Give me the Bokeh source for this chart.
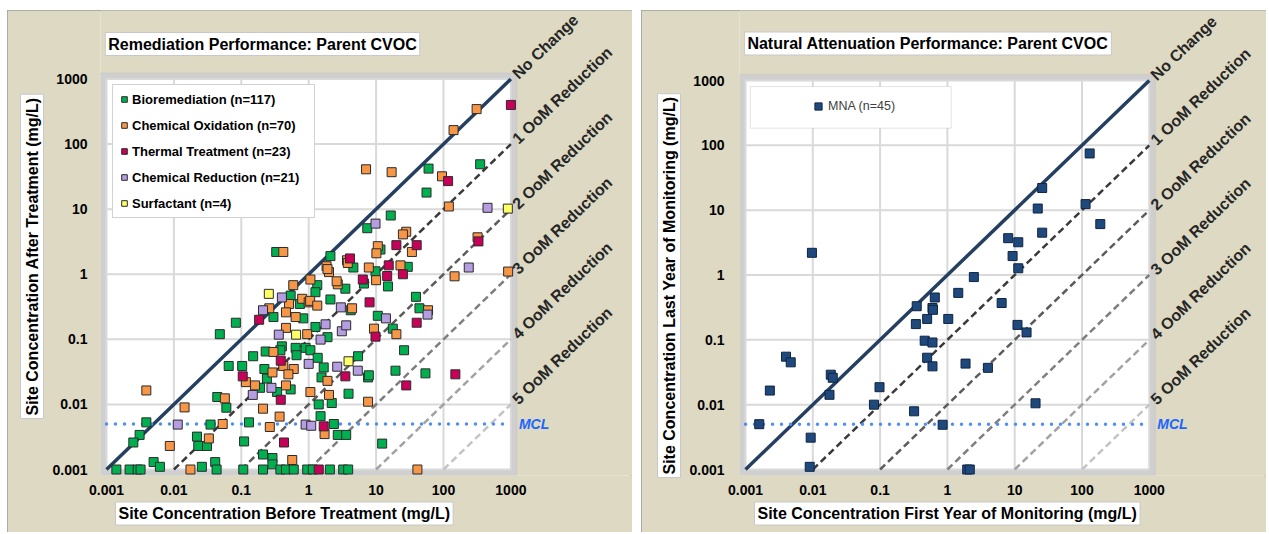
import math
from bokeh.plotting import figure
from bokeh.models import (Range1d, FixedTicker, CustomJSTickFormatter, Label, Title,
                          BoxAnnotation, Legend, LegendItem)
from bokeh.layouts import row
from bokeh.embed import file_html
from bokeh.resources import INLINE

# ---------------- data ----------------
axis_ticks = [0.001, 0.01, 0.1, 1, 10, 100, 1000]
axis_min, axis_max = 0.001, 1000
oom_steps = [0, 1, 2, 3, 4, 5]
oom_labels = ["No Change", "1 OoM Reduction", "2 OoM Reduction",
              "3 OoM Reduction", "4 OoM Reduction", "5 OoM Reduction"]
mcl_value = 0.005

bioremediation = [
    (0.083, 0.18), (0.048, 0.12), (0.065, 0.039), (0.103, 0.039), (0.15, 0.055),
    (0.23, 0.065), (0.22, 0.035), (0.24, 0.025), (0.30, 0.22), (0.54, 0.47),
    (0.74, 0.35), (0.83, 0.21), (0.40, 0.078), (0.64, 0.074), (0.90, 0.074),
    (0.38, 0.068), (0.66, 0.057), (0.19, 0.018), (0.34, 0.0155), (0.54, 0.017),
    (0.044, 0.013), (0.06, 0.0089), (0.0039, 0.0053), (0.035, 0.0049), (0.13, 0.0053),
    (0.0031, 0.0034), (0.0025, 0.0026), (0.022, 0.0032), (0.023, 0.0023), (0.031, 0.0023),
    (0.11, 0.0027), (0.21, 0.0017), (0.29, 0.0015), (0.29, 0.0012), (0.041, 0.0013),
    (0.043, 0.001), (0.026, 0.0011), (0.005, 0.0013), (0.0062, 0.0011), (0.0014, 0.001),
    (0.0022, 0.001), (0.0029, 0.001), (0.0032, 0.001), (0.107, 0.001), (0.21, 0.001),
    (0.38, 0.001), (0.46, 0.001), (0.60, 0.001), (0.95, 0.001), (6.6, 0.72),
    (15, 0.65), (3.5, 0.6), (1.34, 0.68), (1.26, 0.53), (2.1, 0.41),
    (4.2, 0.28), (10.6, 0.23), (39, 0.45), (44, 0.30), (1.26, 0.155),
    (1.9, 0.108), (17.7, 0.146), (26, 0.068), (1.06, 0.068), (1.36, 0.052),
    (1.67, 0.037), (5.4, 0.055), (7.6, 0.026), (7.8, 0.028), (19.4, 0.033),
    (54, 0.030), (1.55, 0.026), (2.2, 0.0105), (1.41, 0.010), (3.9, 0.0146),
    (1.5, 0.0066), (2.36, 0.005), (2.7, 0.0034), (3.6, 0.0034), (12.3, 0.0025),
    (1.15, 0.001), (2.06, 0.001), (3.25, 0.001), (3.85, 0.001), (60, 42),
    (350, 49), (56, 18), (16.5, 8.0), (7.4, 5.1), (11.6, 2.4),
    (2.1, 1.9), (4.6, 1.27), (29.5, 1.3), (9.8, 1.11), (0.33, 2.2),
]
chemical_oxidation = [
    (0.59, 0.68), (0.26, 0.30), (0.51, 0.35), (0.80, 0.42), (0.46, 0.26),
    (0.64, 0.22), (0.46, 0.15), (0.95, 0.12), (0.30, 0.064), (0.42, 0.039),
    (0.60, 0.035), (0.29, 0.031), (0.50, 0.029), (0.117, 0.022), (0.16, 0.0196),
    (0.46, 0.0196), (0.057, 0.0124), (0.21, 0.0086), (0.37, 0.0065), (0.0039, 0.0164),
    (0.0144, 0.009), (0.053, 0.005), (0.265, 0.0045), (0.033, 0.003), (0.0087, 0.0023),
    (0.57, 0.0014), (0.0176, 0.001), (1.06, 0.83), (2.0, 1.08), (10, 0.81),
    (2.7, 0.70), (2.6, 0.78), (146, 0.93), (910, 1.1), (1.0, 0.37),
    (1.05, 0.39), (1.34, 0.33), (4.4, 0.30), (59, 0.28), (9.3, 0.146),
    (20, 0.12), (1.9, 0.023), (1.06, 0.0155), (2.0, 0.014), (7.6, 0.011),
    (1.72, 0.0035), (41, 0.001), (310, 345), (141, 164), (7.1, 41),
    (17, 37), (95, 32), (120, 11), (28, 4.5), (25, 4.1),
    (320, 3.7), (10.6, 2.7), (10.1, 2.1), (34, 2.2), (3.7, 1.64),
    (3.8, 1.49), (7.8, 1.27), (23, 1.37), (1.84, 1.33), (1.9, 1.2),
    (0.42, 2.2),
]
thermal_treatment = [
    (0.184, 0.20), (0.385, 0.047), (0.105, 0.027), (0.385, 0.0118), (0.43, 0.0026),
    (6.35, 0.83), (14.6, 0.94), (25, 1.0), (8.0, 0.37), (40, 0.18),
    (9.8, 0.11), (3.5, 0.027), (150, 0.029), (28, 0.0196), (1.67, 0.0046),
    (1.41, 0.001), (1000, 400), (117, 27), (330, 3.2), (20, 2.8),
    (40, 2.8), (4.1, 1.75), (15.4, 1.37),
]
chemical_reduction = [
    (0.40, 0.44), (0.21, 0.28), (0.36, 0.118), (1.0, 0.042), (0.28, 0.018),
    (0.148, 0.014), (0.0114, 0.0049), (0.90, 0.0049), (3.0, 0.31), (14, 0.21),
    (58, 0.24), (1.78, 0.17), (1.5, 0.099), (3.1, 0.133), (3.6, 0.164),
    (2.65, 0.038), (5.35, 0.033), (1.09, 0.0047), (237, 1.27), (450, 10.5),
    (9.8, 6.0),
]
surfactant = [(0.256, 0.50), (0.65, 0.118), (3.9, 0.046), (900, 10.2)]

mna = [
    (0.0016, 0.005), (0.0023, 0.0165), (0.004, 0.055), (0.0047, 0.045), (0.0097, 2.2),
    (0.0093, 0.0031), (0.009, 0.0011), (0.0185, 0.029), (0.0198, 0.026), (0.0177, 0.0142),
    (0.081, 0.0100), (0.098, 0.0186), (25.6, 22), (22, 10.6), (25.6, 4.5),
    (8.0, 3.7), (11.3, 3.2), (9.3, 1.96), (11.3, 1.27), (2.47, 0.93),
    (1.45, 0.53), (0.65, 0.45), (0.35, 0.33), (0.60, 0.31), (0.61, 0.29),
    (0.50, 0.21), (0.34, 0.175), (1.03, 0.21), (6.4, 0.37), (0.46, 0.097),
    (0.60, 0.091), (0.50, 0.053), (0.60, 0.039), (1.86, 0.043), (4.0, 0.037),
    (11, 0.17), (15, 0.13), (0.32, 0.0079), (0.85, 0.0049), (20.4, 0.0105),
    (1.97, 0.001), (2.15, 0.001), (130, 75), (113, 12.4), (187, 6.1),
]

left_series = [
    ("Bioremediation (n=117)", bioremediation, "#00B050"),
    ("Chemical Oxidation (n=70)", chemical_oxidation, "#F79646"),
    ("Thermal Treatment (n=23)", thermal_treatment, "#C8005A"),
    ("Chemical Reduction (n=21)", chemical_reduction, "#B59DE2"),
    ("Surfactant (n=4)", surfactant, "#FFFF66"),
]

# ---------------- styling ----------------
TAN = "#DDD9C3"
FONT = "Liberation Sans"
oom_colors = ["#243F60", "#3A3A3A", "#5C5C5C", "#7F7F7F", "#A2A2A2", "#C4C4C4"]
FIG_W, FIG_H = 625, 522
PAD = 6  # px of shadow band around the white plot area


def make_fig(border_left, px_dec_x, px_dec_y, ylab_std):
    border_bottom = 57
    frame_w = FIG_W - border_left
    frame_h = FIG_H - border_bottom
    x_lo = -3 - PAD / px_dec_x
    y_lo = -3 - PAD / px_dec_y
    x_hi = x_lo + frame_w / px_dec_x
    y_hi = y_lo + frame_h / px_dec_y
    p = figure(width=FIG_W, height=FIG_H, x_axis_type="log", y_axis_type="log",
               x_range=Range1d(10 ** x_lo, 10 ** x_hi),
               y_range=Range1d(10 ** y_lo, 10 ** y_hi),
               output_backend="svg", toolbar_location=None,
               min_border_left=border_left, min_border_right=0,
               min_border_top=0, min_border_bottom=border_bottom,
               styles={"outline": "2px solid #9C9C9C", "outline-offset": "-2px"})
    p.border_fill_color = TAN
    p.background_fill_color = TAN
    p.outline_line_color = None
    p.xgrid.visible = False
    p.ygrid.visible = False
    bx = 10 ** (PAD / px_dec_x)
    by = 10 ** (PAD / px_dec_y)
    p.add_layout(BoxAnnotation(left=axis_min / bx, right=axis_max * bx,
                               bottom=axis_min / by, top=axis_max * by,
                               fill_color="#CFCFCF", fill_alpha=1.0,
                               line_color="#B8B8B8", line_width=1, level="image"))
    p.add_layout(BoxAnnotation(left=axis_min, right=axis_max, bottom=axis_min, top=axis_max,
                               fill_color="white", fill_alpha=1.0, line_color=None,
                               level="image"))
    for ax in (p.xaxis[0], p.yaxis[0]):
        ax.ticker = FixedTicker(ticks=axis_ticks)
        ax.formatter = CustomJSTickFormatter(code="return tick.toString();")
        ax.axis_line_color = None
        ax.major_tick_line_color = None
        ax.minor_tick_line_color = None
        ax.major_label_text_font = FONT
        ax.major_label_text_font_style = "bold"
        ax.major_label_text_font_size = "14px"
        ax.major_label_text_color = "#000000"
    p.xaxis.major_label_standoff = 3
    p.yaxis.major_label_standoff = ylab_std

    # grid lines within the plotting area
    n = len(axis_ticks)
    p.segment(x0=axis_ticks, y0=[axis_min] * n, x1=axis_ticks, y1=[axis_max] * n,
              line_color="#D9D9D9", line_width=2)
    p.segment(x0=[axis_min] * n, y0=axis_ticks, x1=[axis_max] * n, y1=axis_ticks,
              line_color="#D9D9D9", line_width=2)

    # reference lines
    for k, col in zip(oom_steps, oom_colors):
        xs = [axis_min * 10 ** k, axis_max]
        ys = [x / 10 ** k for x in xs]
        if k == 0:
            p.line(xs, ys, line_color=col, line_width=3.5)
        else:
            p.line(xs, ys, line_color=col, line_width=2.5, line_dash="7 4")
    p.line([axis_min, axis_max], [mcl_value, mcl_value], line_color="#4F8FF5",
           line_width=3.5, line_dash="0 9", line_cap="round")

    angle = math.atan2(px_dec_y, px_dec_x)
    for k, txt in zip(oom_steps, oom_labels):
        p.add_layout(Label(x=axis_max, y=axis_max / 10 ** k, text=txt, angle=angle,
                           text_font=FONT, text_font_style="bold", text_font_size="16px",
                           text_color="#262626", text_align="left", text_baseline="middle",
                           x_offset=4, y_offset=3))
    p.add_layout(Label(x=axis_max, y=mcl_value, text="MCL", text_font=FONT,
                       text_font_style="bold italic", text_font_size="14px",
                       text_color="#1A66FF", text_align="left", text_baseline="middle",
                       x_offset=8))
    return p


def chart_title(p, x, y, text):
    p.add_layout(Label(x=x, y=y, text=text, text_font=FONT,
                       text_font_style="bold", text_font_size="16px", text_color="#000000",
                       text_align="center", text_baseline="middle",
                       background_fill_color="white", border_line_color="#C8C8C8",
                       padding=3))


def axis_title(p, text, place, offset, standoff):
    p.add_layout(Title(text=text, align="left", offset=offset, standoff=standoff,
                       text_font=FONT, text_font_style="bold", text_font_size="16px",
                       text_color="#000000", background_fill_color="white",
                       border_line_color="#C8C8C8", padding=3), place)


# ---------------- left chart ----------------
p1 = make_fig(93, 67.4, 65.08, 7)
items = []
for name, pts, col in left_series:
    r = p1.scatter([q[0] for q in pts], [q[1] for q in pts], marker="square", size=9,
                   fill_color=col, line_color="#2B2B2B", line_width=1)
    items.append(LegendItem(label=name, renderers=[r]))
leg = Legend(items=items, location=(12, 257), margin=0, padding=4, spacing=6,
             label_height=20, glyph_height=14, glyph_width=14, label_standoff=1,
             label_width=178,
             label_text_font=FONT, label_text_font_style="bold",
             label_text_font_size="13px", label_text_color="#000000",
             border_line_color="#A6A6A6", background_fill_color="white",
             background_fill_alpha=1.0)
p1.add_layout(leg)
chart_title(p1, 0.2065, 3450, "Remediation Performance: Parent CVOC")
axis_title(p1, "Site Concentration Before Treatment (mg/L)", "below", 15, 5)
axis_title(p1, "Site Concentration After Treatment (mg/L)", "left", 57, 12)

# ---------------- right chart ----------------
p2 = make_fig(98, 67.3, 64.83, 9)
r2 = p2.scatter([q[0] for q in mna], [q[1] for q in mna], marker="square", size=9,
                fill_color="#1F497D", line_color="#0F2440", line_width=1)
p2.add_layout(BoxAnnotation(left=0.00118, right=1.14, bottom=184, top=808,
                            fill_color="white", fill_alpha=1.0,
                            line_color="#A6A6A6", line_width=1))
leg2 = Legend(items=[LegendItem(label="MNA (n=45)", renderers=[r2])],
              location=(70, 359), padding=0, margin=0,
              label_height=20, glyph_height=18, glyph_width=18, label_standoff=1,
              label_text_font=FONT, label_text_font_size="12.5px",
              label_text_color="#404040", border_line_color=None,
              background_fill_alpha=0.0)
p2.add_layout(leg2)
chart_title(p2, 0.513, 3724, "Natural Attenuation Performance: Parent CVOC")
axis_title(p2, "Site Concentration First Year of Monitoring (mg/L)", "below", 15, 5)
axis_title(p2, "Site Concentration Last Year of Monitoring (mg/L)", "left", -2, 12)

layout = row(p1, p2, spacing=9, margin=(10, 0, 0, 7))
open("out.html", "w").write(file_html(layout, INLINE))
